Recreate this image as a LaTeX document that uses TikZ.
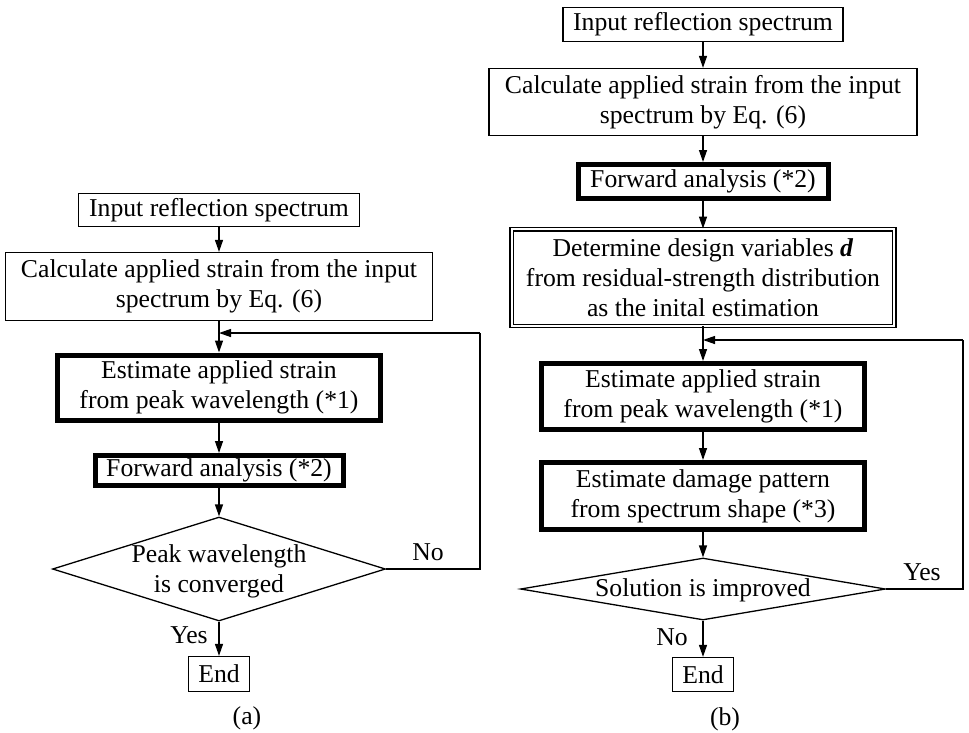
\documentclass[tikz,border=0pt]{standalone}
\usepackage{fontspec}
\setmainfont{Liberation Serif}
\usetikzlibrary{arrows.meta,shapes.geometric}
\begin{document}
\begin{tikzpicture}[x=1pt,y=-1pt,
  font=\fontsize{25.7}{30}\selectfont,
  thinbox/.style={draw, line width=1.3pt, rectangle, inner sep=0pt, align=center},
  thickbox/.style={draw, line width=5pt, rectangle, inner sep=0pt, align=center},
  dblbox/.style={draw, line width=1.3pt, double, double distance=2pt, rectangle, inner sep=0pt, align=center},
  decision/.style={draw, line width=1.3pt, diamond, inner sep=0pt},
  txt/.style={inner sep=0pt, align=center},
  conn/.style={line width=1.3pt, -{Triangle[length=12pt,width=8pt]}},
  plain/.style={line width=1.3pt}
]
\useasboundingbox (0,0) rectangle (969,732);

% ---------------- (a) ----------------
\node[thinbox, minimum width=281pt, minimum height=33pt] (in1) at (219,210) {Input reflection spectrum};
\node[thinbox, minimum width=427pt, minimum height=68pt] (calc1) at (219,286.5) {Calculate applied strain from the input\\spectrum by Eq. (6)};
\node[thickbox, minimum width=323pt, minimum height=65pt] (est1) at (219,387.5) {Estimate applied strain\\from peak wavelength (*1)};
\node[thickbox, minimum width=248pt, minimum height=30pt] (fwd1) at (219,470.5) {Forward analysis (*2)};
\node[decision, minimum width=333pt, minimum height=104pt] (dia1) at (219,569) {};
\node[txt] (dia1t) at (219,571) {Peak wavelength\\is converged};
\node[thinbox, minimum width=61pt, minimum height=35pt] (end1) at (219,674) {End};
\node[txt] (no1) at (428,552) {No};
\node[txt] (yes1) at (189,635) {Yes};
\node[txt] (capa) at (247,718) {(a)};
\coordinate (la1) at (480,569);
\coordinate (la2) at (480,333);
\coordinate (la3) at (219,333);

\draw[conn] (in1) -- (calc1);
\draw[conn] (calc1) -- (est1);
\draw[conn] (est1) -- (fwd1);
\draw[conn] (fwd1) -- (dia1.north);
\draw[conn] (dia1.south) -- (end1);
\draw[plain] (dia1.east) -- (la1) -- (la2);
\draw[conn] (la2) -- (la3);

% ---------------- (b) ----------------
\node[thinbox, minimum width=280pt, minimum height=34pt] (in2) at (703,24.5) {Input reflection spectrum};
\node[thinbox, minimum width=428pt, minimum height=67pt] (calc2) at (703,102) {Calculate applied strain from the input\\spectrum by Eq. (6)};
\node[thickbox, minimum width=250pt, minimum height=34pt] (fwd2) at (703,181.5) {Forward analysis (*2)};
\node[dblbox, minimum width=382.6pt, minimum height=96.6pt] (dbl) at (703,277.5) {Determine design variables \textbf{\textit{d}}\\from residual-strength distribution\\as the inital estimation};
\node[thickbox, minimum width=323pt, minimum height=66pt] (est2) at (703,396.5) {Estimate applied strain\\from peak wavelength (*1)};
\node[thickbox, minimum width=323pt, minimum height=67pt] (dmg2) at (703,496) {Estimate damage pattern\\from spectrum shape (*3)};
\node[decision, minimum width=365pt, minimum height=62pt] (dia2) at (703,589) {};
\node[txt] (dia2t) at (703,590) {Solution is improved};
\node[thinbox, minimum width=61pt, minimum height=34pt] (end2) at (703,674.5) {End};
\node[txt] (yes2) at (922,572) {Yes};
\node[txt] (no2) at (672,637) {No};
\node[txt] (capb) at (725,719) {(b)};
\coordinate (lb1) at (963,589);
\coordinate (lb2) at (963,340);
\coordinate (lb3) at (703,340);

\draw[conn] (in2) -- (calc2);
\draw[conn] (calc2) -- (fwd2);
\draw[conn] (fwd2) -- (dbl);
\draw[conn] (dbl) -- (est2);
\draw[conn] (est2) -- (dmg2);
\draw[conn] (dmg2) -- (dia2.north);
\draw[conn] (dia2.south) -- (end2);
\draw[plain] (dia2.east) -- (lb1) -- (lb2);
\draw[conn] (lb2) -- (lb3);
\end{tikzpicture}
\end{document}
